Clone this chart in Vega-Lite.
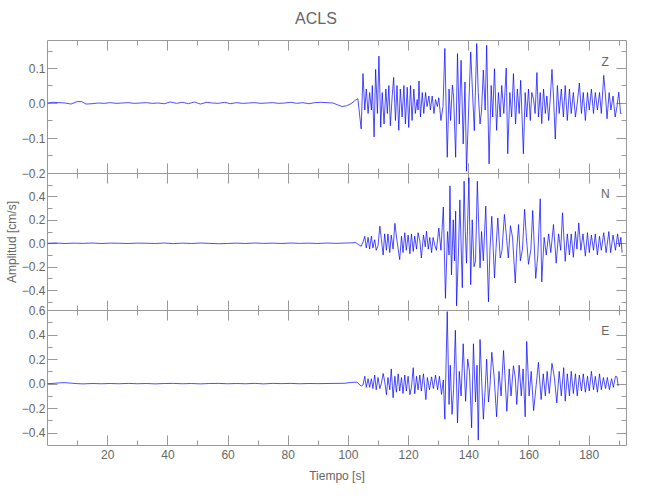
{
"$schema": "https://vega.github.io/schema/vega-lite/v6.json",
"background": "white",
"padding": {"left": 4, "top": 11, "right": 5, "bottom": 5},
"title": {"text": "ACLS", "fontSize": 16, "font": "Liberation Sans", "fontWeight": "normal", "color": "#666666", "anchor": "middle", "offset": 12},
"spacing": 0,
"bounds": "flush",
"config": {
  "view": {"stroke": "#999999", "strokeWidth": 1},
  "axis": {"grid": false, "domain": false, "labelFont": "Liberation Sans", "titleFont": "Liberation Sans", "labelColor": "#666666", "titleColor": "#666666", "tickColor": "#999999", "labelFontSize": 12, "titleFontSize": 12, "titleFontWeight": "normal", "labelOverlap": false}
},
"datasets": {
"z": [
{"t":0.2,"v":0.0},{"t":2,"v":0.002},{"t":4,"v":0.001},{"t":6,"v":0.0},{"t":8,"v":-0.003},{"t":10,"v":0.004},{"t":11.5,"v":0.004},{"t":13,"v":-0.003},{"t":15,"v":-0.002},{"t":17,"v":0.0},{"t":19,"v":-0.001},{"t":21,"v":0.001},{"t":23,"v":-0.001},{"t":25,"v":0.0},{"t":27,"v":0.001},{"t":29,"v":-0.001},{"t":31,"v":0.0},{"t":33,"v":0.001},{"t":35,"v":-0.001},{"t":37,"v":0.0},{"t":39,"v":-0.002},{"t":41,"v":0.003},{"t":43,"v":-0.001},{"t":45,"v":0.002},{"t":47,"v":-0.002},{"t":49,"v":0.003},{"t":51,"v":-0.003},{"t":53,"v":0.002},{"t":55,"v":0.0},{"t":57,"v":-0.001},{"t":59,"v":0.002},{"t":61,"v":-0.002},{"t":63,"v":0.001},{"t":65,"v":-0.001},{"t":67,"v":0.0},{"t":69,"v":0.001},{"t":71,"v":-0.001},{"t":73,"v":0.0},{"t":75,"v":0.001},{"t":77,"v":-0.001},{"t":79,"v":0.0},{"t":81,"v":0.002},{"t":83,"v":-0.001},{"t":85,"v":0.001},{"t":87,"v":-0.002},{"t":89,"v":0.001},{"t":91,"v":0.002},{"t":93,"v":0.001},{"t":95,"v":0.0},{"t":96.5,"v":-0.005},{"t":98,"v":-0.01},{"t":99.5,"v":-0.008},{"t":101,"v":-0.002},{"t":102.5,"v":0.008},{"t":103.3,"v":0.012},
{"t":104.4,"v":-0.074},{"t":105.0,"v":0.084},{"t":105.6,"v":-0.02},{"t":106.1,"v":0.04},{"t":106.7,"v":-0.03},{"t":107.2,"v":0.03},{"t":107.8,"v":-0.02},{"t":108.1,"v":0.05},{"t":108.7,"v":-0.097},{"t":109.2,"v":0.096},{"t":109.8,"v":-0.03},{"t":110.3,"v":0.134},{"t":110.9,"v":-0.069},{"t":111.4,"v":0.03},{"t":112.0,"v":-0.06},{"t":112.6,"v":0.04},{"t":113.1,"v":-0.03},{"t":113.6,"v":0.05},{"t":114.1,"v":-0.065},{"t":114.7,"v":0.02},{"t":115.2,"v":0.073},{"t":115.8,"v":-0.05},{"t":116.3,"v":0.05},{"t":116.9,"v":-0.078},{"t":117.4,"v":0.04},{"t":118.0,"v":-0.04},{"t":118.6,"v":0.05},{"t":119.1,"v":-0.06},{"t":119.7,"v":0.045},{"t":120.2,"v":-0.07},{"t":120.8,"v":0.05},{"t":121.3,"v":-0.05},{"t":121.9,"v":0.04},{"t":122.4,"v":-0.03},{"t":123.0,"v":0.01},{"t":123.3,"v":-0.02},{"t":123.6,"v":0.063},{"t":124.1,"v":-0.04},{"t":124.7,"v":0.03},{"t":125.2,"v":-0.03},{"t":125.8,"v":0.03},{"t":126.3,"v":-0.01},{"t":126.9,"v":0.02},{"t":127.4,"v":-0.02},{"t":128.0,"v":0.02},{"t":128.6,"v":-0.03},{"t":129.1,"v":0.01},{"t":129.7,"v":-0.01},{"t":130.2,"v":0.015},{"t":130.9,"v":-0.05},{"t":131.6,"v":-0.01},{"t":132.2,"v":0.156},{"t":133.0,"v":-0.155},{"t":133.6,"v":0.04},{"t":134.1,"v":-0.05},{"t":134.7,"v":0.051},{"t":135.1,"v":0.02},{"t":135.8,"v":-0.155},{"t":136.4,"v":0.141},{"t":137.0,"v":-0.06},{"t":137.6,"v":0.122},{"t":138.3,"v":-0.117},{"t":138.9,"v":0.06},{"t":139.4,"v":-0.195},{"t":140.1,"v":-0.02},{"t":140.8,"v":0.146},{"t":141.4,"v":0.03},{"t":142.0,"v":-0.079},{"t":142.8,"v":0.17},{"t":143.3,"v":0.03},{"t":143.9,"v":-0.06},{"t":144.4,"v":-0.02},{"t":145.0,"v":0.094},{"t":145.6,"v":-0.02},{"t":146.1,"v":0.165},{"t":146.9,"v":-0.174},{"t":147.6,"v":0.05},{"t":148.1,"v":-0.04},{"t":148.7,"v":0.098},{"t":149.4,"v":-0.078},{"t":150.0,"v":0.03},{"t":150.6,"v":-0.04},{"t":151.1,"v":0.05},{"t":151.8,"v":-0.03},{"t":152.6,"v":0.1},{"t":153.1,"v":-0.145},{"t":153.8,"v":0.03},{"t":154.4,"v":-0.04},{"t":155.0,"v":0.084},{"t":155.7,"v":-0.06},{"t":156.3,"v":0.04},{"t":156.9,"v":-0.03},{"t":157.4,"v":0.065},{"t":158.3,"v":-0.145},{"t":158.9,"v":0.03},{"t":159.4,"v":-0.04},{"t":160.0,"v":0.04},{"t":160.6,"v":-0.05},{"t":161.1,"v":0.03},{"t":161.7,"v":0.01},{"t":162.2,"v":-0.03},{"t":162.8,"v":0.087},{"t":163.3,"v":-0.04},{"t":163.9,"v":0.03},{"t":164.4,"v":-0.059},{"t":165.0,"v":0.04},{"t":165.6,"v":-0.03},{"t":166.1,"v":0.02},{"t":166.7,"v":-0.05},{"t":167.2,"v":0.01},{"t":167.8,"v":0.096},{"t":168.3,"v":0.02},{"t":168.9,"v":-0.103},{"t":169.6,"v":0.05},{"t":170.2,"v":-0.03},{"t":170.9,"v":0.04},{"t":171.6,"v":-0.04},{"t":172.2,"v":0.05},{"t":172.9,"v":-0.05},{"t":173.6,"v":0.04},{"t":174.2,"v":-0.03},{"t":174.9,"v":0.03},{"t":175.6,"v":-0.04},{"t":176.2,"v":0.0},{"t":176.9,"v":0.057},{"t":177.6,"v":-0.03},{"t":178.2,"v":0.03},{"t":178.9,"v":-0.05},{"t":179.6,"v":0.03},{"t":180.2,"v":-0.02},{"t":180.9,"v":0.04},{"t":181.6,"v":-0.03},{"t":182.2,"v":0.03},{"t":182.9,"v":-0.02},{"t":183.6,"v":0.03},{"t":184.2,"v":-0.03},{"t":185.0,"v":0.079},{"t":185.6,"v":0.02},{"t":186.1,"v":-0.045},{"t":186.8,"v":0.03},{"t":187.4,"v":-0.02},{"t":188.1,"v":0.02},{"t":188.8,"v":-0.04},{"t":189.4,"v":-0.01},{"t":190.0,"v":0.031},{"t":190.6,"v":-0.03},{"t":190.9,"v":-0.03}
],
"n": [
{"t":0.2,"v":0.0},{"t":3,"v":0.002},{"t":6,"v":-0.002},{"t":9,"v":0.001},{"t":12,"v":-0.001},{"t":15,"v":0.002},{"t":18,"v":-0.002},{"t":21,"v":0.001},{"t":24,"v":0.0},{"t":27,"v":-0.002},{"t":30,"v":0.001},{"t":33,"v":0.0},{"t":36,"v":-0.002},{"t":39,"v":0.002},{"t":42,"v":-0.003},{"t":45,"v":0.001},{"t":48,"v":-0.002},{"t":51,"v":0.002},{"t":54,"v":-0.001},{"t":57,"v":-0.004},{"t":60,"v":-0.002},{"t":63,"v":0.001},{"t":66,"v":-0.002},{"t":69,"v":0.002},{"t":72,"v":-0.001},{"t":75,"v":0.001},{"t":78,"v":-0.002},{"t":81,"v":0.002},{"t":84,"v":-0.001},{"t":87,"v":0.001},{"t":90,"v":-0.002},{"t":93,"v":0.002},{"t":96,"v":-0.001},{"t":99,"v":0.002},{"t":101,"v":0.003},{"t":102.5,"v":0.006},{"t":103.5,"v":-0.01},{"t":104.4,"v":-0.026},
{"t":105.0,"v":0.01},{"t":105.6,"v":0.06},{"t":106.1,"v":-0.04},{"t":106.7,"v":0.05},{"t":107.2,"v":-0.05},{"t":107.8,"v":0.06},{"t":108.3,"v":-0.04},{"t":108.9,"v":0.03},{"t":109.4,"v":-0.06},{"t":110.0,"v":-0.02},{"t":110.6,"v":0.146},{"t":111.1,"v":0.04},{"t":111.7,"v":-0.10},{"t":112.2,"v":0.08},{"t":112.8,"v":-0.06},{"t":113.3,"v":0.08},{"t":113.9,"v":-0.08},{"t":114.4,"v":0.07},{"t":115.0,"v":-0.05},{"t":115.6,"v":0.17},{"t":116.3,"v":0.02},{"t":117.2,"v":-0.14},{"t":117.8,"v":0.06},{"t":118.3,"v":-0.08},{"t":118.9,"v":0.09},{"t":119.4,"v":-0.06},{"t":120.0,"v":0.07},{"t":120.6,"v":-0.09},{"t":121.1,"v":0.08},{"t":121.7,"v":-0.07},{"t":122.2,"v":0.06},{"t":122.8,"v":-0.05},{"t":123.3,"v":0.09},{"t":123.9,"v":0.02},{"t":124.4,"v":-0.126},{"t":125.1,"v":0.07},{"t":125.7,"v":-0.03},{"t":126.1,"v":0.103},{"t":126.7,"v":-0.05},{"t":127.2,"v":0.05},{"t":127.8,"v":-0.08},{"t":128.3,"v":0.05},{"t":128.9,"v":-0.02},{"t":129.4,"v":-0.06},{"t":130.2,"v":0.13},{"t":130.9,"v":-0.06},{"t":131.7,"v":0.31},{"t":132.4,"v":-0.47},{"t":133.1,"v":0.1},{"t":133.6,"v":-0.1},{"t":133.9,"v":0.49},{"t":134.4,"v":-0.27},{"t":135.0,"v":0.2},{"t":135.4,"v":-0.15},{"t":135.8,"v":0.274},{"t":136.1,"v":-0.534},{"t":136.7,"v":-0.1},{"t":137.2,"v":0.37},{"t":138.0,"v":-0.38},{"t":138.6,"v":0.53},{"t":139.0,"v":0.1},{"t":139.4,"v":-0.17},{"t":140.2,"v":0.56},{"t":140.8,"v":-0.354},{"t":141.3,"v":0.2},{"t":141.9,"v":-0.2},{"t":142.4,"v":-0.15},{"t":143.0,"v":0.53},{"t":143.9,"v":-0.21},{"t":144.4,"v":0.1},{"t":145.0,"v":-0.15},{"t":145.8,"v":0.317},{"t":146.7,"v":-0.50},{"t":147.2,"v":-0.05},{"t":147.8,"v":0.23},{"t":148.7,"v":-0.297},{"t":149.2,"v":-0.05},{"t":149.8,"v":0.216},{"t":150.6,"v":-0.126},{"t":151.2,"v":-0.06},{"t":152.0,"v":0.246},{"t":152.7,"v":0.05},{"t":153.3,"v":-0.126},{"t":154.0,"v":0.15},{"t":154.7,"v":0.05},{"t":155.6,"v":-0.34},{"t":156.1,"v":-0.05},{"t":156.7,"v":0.16},{"t":157.3,"v":-0.15},{"t":158.0,"v":-0.05},{"t":158.7,"v":0.29},{"t":159.3,"v":0.05},{"t":160.0,"v":-0.18},{"t":160.8,"v":-0.05},{"t":161.4,"v":0.28},{"t":162.4,"v":-0.30},{"t":163.1,"v":-0.1},{"t":163.9,"v":0.38},{"t":164.4,"v":-0.33},{"t":165.2,"v":0.05},{"t":165.9,"v":-0.1},{"t":166.7,"v":0.08},{"t":167.4,"v":-0.08},{"t":168.3,"v":0.16},{"t":169.2,"v":-0.17},{"t":170.0,"v":0.08},{"t":170.7,"v":-0.06},{"t":171.3,"v":0.26},{"t":172.2,"v":-0.154},{"t":172.9,"v":0.08},{"t":173.6,"v":-0.1},{"t":174.2,"v":0.08},{"t":174.9,"v":-0.12},{"t":175.6,"v":0.1},{"t":176.1,"v":-0.05},{"t":176.7,"v":0.174},{"t":177.4,"v":-0.06},{"t":178.1,"v":0.08},{"t":178.9,"v":-0.11},{"t":179.6,"v":0.09},{"t":180.2,"v":-0.08},{"t":180.9,"v":0.07},{"t":181.6,"v":-0.06},{"t":182.2,"v":0.08},{"t":182.9,"v":-0.1},{"t":183.6,"v":0.06},{"t":184.2,"v":-0.06},{"t":185.0,"v":0.09},{"t":185.8,"v":-0.08},{"t":186.7,"v":0.10},{"t":187.3,"v":-0.08},{"t":188.1,"v":0.07},{"t":188.9,"v":-0.06},{"t":189.6,"v":0.08},{"t":190.2,"v":-0.03},{"t":190.7,"v":0.05},{"t":191.1,"v":-0.08}
],
"e": [
{"t":0.2,"v":0.0},{"t":2,"v":0.002},{"t":4,"v":0.006},{"t":6,"v":0.008},{"t":8,"v":0.004},{"t":10,"v":0.0},{"t":12,"v":-0.002},{"t":15,"v":0.001},{"t":18,"v":-0.001},{"t":21,"v":0.001},{"t":24,"v":-0.001},{"t":27,"v":0.002},{"t":30,"v":-0.001},{"t":33,"v":0.001},{"t":36,"v":-0.002},{"t":39,"v":0.001},{"t":42,"v":0.002},{"t":45,"v":-0.001},{"t":48,"v":0.001},{"t":51,"v":-0.002},{"t":54,"v":0.001},{"t":57,"v":0.002},{"t":60,"v":-0.001},{"t":63,"v":0.001},{"t":66,"v":-0.001},{"t":69,"v":0.002},{"t":72,"v":-0.002},{"t":75,"v":0.002},{"t":78,"v":0.0},{"t":81,"v":0.002},{"t":84,"v":-0.001},{"t":87,"v":0.001},{"t":90,"v":0.0},{"t":93,"v":0.001},{"t":96,"v":0.002},{"t":99,"v":0.003},{"t":101,"v":0.01},{"t":103,"v":0.012},{"t":104.4,"v":-0.02},
{"t":105.0,"v":-0.01},{"t":105.6,"v":0.06},{"t":106.1,"v":-0.03},{"t":106.7,"v":0.04},{"t":107.2,"v":-0.03},{"t":107.8,"v":0.04},{"t":108.3,"v":-0.04},{"t":108.9,"v":0.07},{"t":109.4,"v":-0.05},{"t":110.0,"v":0.05},{"t":110.6,"v":-0.04},{"t":111.1,"v":0.0},{"t":111.7,"v":0.083},{"t":112.2,"v":0.02},{"t":112.8,"v":-0.09},{"t":113.3,"v":0.05},{"t":113.9,"v":-0.05},{"t":114.4,"v":0.12},{"t":115.0,"v":-0.115},{"t":115.6,"v":0.06},{"t":116.1,"v":-0.07},{"t":116.7,"v":0.08},{"t":117.2,"v":-0.06},{"t":117.8,"v":0.05},{"t":118.3,"v":-0.08},{"t":118.9,"v":0.07},{"t":119.4,"v":-0.06},{"t":120.0,"v":0.06},{"t":120.6,"v":-0.09},{"t":121.1,"v":-0.03},{"t":121.7,"v":0.13},{"t":122.2,"v":-0.083},{"t":122.8,"v":0.06},{"t":123.3,"v":-0.05},{"t":123.9,"v":0.07},{"t":124.4,"v":-0.06},{"t":125.1,"v":0.08},{"t":125.9,"v":-0.13},{"t":126.4,"v":0.05},{"t":127.1,"v":-0.05},{"t":127.8,"v":0.055},{"t":128.4,"v":-0.04},{"t":129.1,"v":0.07},{"t":129.8,"v":-0.05},{"t":130.4,"v":0.06},{"t":131.1,"v":-0.088},{"t":131.7,"v":0.03},{"t":132.2,"v":-0.29},{"t":133.0,"v":0.587},{"t":133.6,"v":-0.17},{"t":134.0,"v":0.15},{"t":134.6,"v":-0.25},{"t":135.1,"v":-0.05},{"t":135.7,"v":0.435},{"t":136.4,"v":-0.32},{"t":137.0,"v":0.1},{"t":137.6,"v":-0.1},{"t":138.3,"v":0.325},{"t":139.1,"v":-0.144},{"t":139.8,"v":0.2},{"t":140.4,"v":0.1},{"t":141.1,"v":-0.36},{"t":141.7,"v":0.325},{"t":142.4,"v":-0.15},{"t":142.9,"v":0.15},{"t":143.3,"v":-0.46},{"t":143.9,"v":0.36},{"t":144.4,"v":0.05},{"t":145.0,"v":-0.29},{"t":145.6,"v":-0.05},{"t":146.1,"v":0.2},{"t":146.7,"v":-0.15},{"t":147.2,"v":-0.02},{"t":147.8,"v":0.256},{"t":148.6,"v":0.05},{"t":149.4,"v":-0.27},{"t":150.2,"v":0.1},{"t":150.9,"v":-0.1},{"t":151.7,"v":0.27},{"t":152.2,"v":0.05},{"t":152.8,"v":-0.226},{"t":153.6,"v":0.12},{"t":154.2,"v":-0.1},{"t":155.0,"v":0.146},{"t":155.6,"v":0.05},{"t":156.1,"v":-0.17},{"t":156.9,"v":0.15},{"t":157.6,"v":-0.1},{"t":158.2,"v":0.12},{"t":158.9,"v":-0.27},{"t":159.4,"v":0.344},{"t":160.2,"v":-0.1},{"t":160.9,"v":0.1},{"t":161.7,"v":-0.22},{"t":162.4,"v":-0.05},{"t":163.3,"v":0.174},{"t":164.2,"v":-0.13},{"t":164.9,"v":0.08},{"t":165.6,"v":-0.1},{"t":166.2,"v":0.1},{"t":166.9,"v":-0.08},{"t":167.8,"v":0.165},{"t":168.6,"v":0.05},{"t":169.4,"v":-0.157},{"t":170.2,"v":0.1},{"t":170.9,"v":-0.1},{"t":171.7,"v":0.13},{"t":172.2,"v":-0.143},{"t":172.9,"v":0.08},{"t":173.6,"v":-0.1},{"t":174.2,"v":0.1},{"t":174.9,"v":-0.08},{"t":175.6,"v":0.08},{"t":176.2,"v":-0.1},{"t":176.9,"v":0.07},{"t":177.6,"v":-0.06},{"t":178.2,"v":0.08},{"t":178.9,"v":-0.07},{"t":179.6,"v":0.06},{"t":180.2,"v":-0.06},{"t":180.9,"v":0.1},{"t":181.6,"v":-0.05},{"t":182.2,"v":0.06},{"t":182.9,"v":-0.07},{"t":183.6,"v":0.08},{"t":184.2,"v":-0.05},{"t":184.9,"v":0.05},{"t":185.6,"v":-0.04},{"t":186.2,"v":0.05},{"t":186.9,"v":-0.05},{"t":187.6,"v":0.04},{"t":188.2,"v":-0.03},{"t":188.9,"v":0.06},{"t":189.4,"v":0.055},{"t":189.8,"v":-0.02}
]
},
"vconcat": [
{
  "width": 579, "height": 133,
  "data": {"name": "z"},
  "resolve": {"axis": {"x": "independent", "y": "independent"}},
  "layer": [
    {"mark": {"type": "line", "color": "#0000ff", "strokeWidth": 0.7, "clip": true},
     "encoding": {
      "x": {"field": "t", "type": "quantitative", "scale": {"domain": [0, 192.4], "nice": false, "zero": false},
            "axis": {"orient": "bottom", "values": [10,20,30,40,50,60,70,80,90,100,110,120,130,140,150,160,170,180,190], "tickSize": {"condition": {"test": "datum.value % 20 === 0", "value": -10}, "value": -5}, "labels": false, "title": null}},
      "y": {"field": "v", "type": "quantitative", "scale": {"domain": [-0.2, 0.18], "nice": false, "zero": false},
            "axis": {"orient": "left", "values": [-0.2,-0.15,-0.1,-0.05,0,0.05,0.1,0.15], "format": ".1f", "labelExpr": "abs(datum.value*10 - round(datum.value*10)) < 0.000001 ? datum.label : ''", "tickSize": {"condition": {"test": "abs(datum.value*10 - round(datum.value*10)) < 0.000001", "value": -10}, "value": -5}, "labelPadding": 12, "title": null}}
     }},
    {"mark": {"type": "line", "opacity": 0},
     "encoding": {
      "x": {"field": "t", "type": "quantitative",
            "axis": {"orient": "top", "values": [10,20,30,40,50,60,70,80,90,100,110,120,130,140,150,160,170,180,190], "tickSize": {"condition": {"test": "datum.value % 20 === 0", "value": -10}, "value": -5}, "labels": false, "title": null}},
      "y": {"field": "v", "type": "quantitative",
            "axis": {"orient": "right", "values": [-0.2,-0.15,-0.1,-0.05,0,0.05,0.1,0.15], "tickSize": {"condition": {"test": "abs(datum.value*10 - round(datum.value*10)) < 0.000001", "value": -10}, "value": -5}, "labels": false, "title": null}}
     }},
    {"data": {"values": [{"lbl": "Z"}]},
     "mark": {"type": "text", "font": "Liberation Sans", "fontSize": 12, "color": "#666666"},
     "encoding": {"x": {"datum": 185.5, "type": "quantitative", "axis": null}, "y": {"datum": 0.118, "type": "quantitative", "axis": null}, "text": {"field": "lbl"}}}
  ]
},
{
  "width": 579, "height": 137,
  "data": {"name": "n"},
  "resolve": {"axis": {"x": "independent", "y": "independent"}},
  "layer": [
    {"mark": {"type": "line", "color": "#0000ff", "strokeWidth": 0.7, "clip": true},
     "encoding": {
      "x": {"field": "t", "type": "quantitative", "scale": {"domain": [0, 192.4], "nice": false, "zero": false},
            "axis": {"orient": "bottom", "values": [10,20,30,40,50,60,70,80,90,100,110,120,130,140,150,160,170,180,190], "tickSize": {"condition": {"test": "datum.value % 20 === 0", "value": -10}, "value": -5}, "labels": false, "title": null}},
      "y": {"field": "v", "type": "quantitative", "scale": {"domain": [-0.57, 0.6], "nice": false, "zero": false},
            "axis": {"orient": "left", "values": [-0.5,-0.4,-0.3,-0.2,-0.1,0,0.1,0.2,0.3,0.4,0.5], "format": ".1f", "labelExpr": "abs(datum.value*5 - round(datum.value*5)) < 0.000001 ? datum.label : ''", "tickSize": {"condition": {"test": "abs(datum.value*5 - round(datum.value*5)) < 0.000001", "value": -10}, "value": -5}, "labelPadding": 12, "title": "Amplitud  [cm/s]", "titlePadding": 3}}
     }},
    {"mark": {"type": "line", "opacity": 0},
     "encoding": {
      "x": {"field": "t", "type": "quantitative",
            "axis": {"orient": "top", "values": [10,20,30,40,50,60,70,80,90,100,110,120,130,140,150,160,170,180,190], "tickSize": {"condition": {"test": "datum.value % 20 === 0", "value": -10}, "value": -5}, "labels": false, "title": null}},
      "y": {"field": "v", "type": "quantitative",
            "axis": {"orient": "right", "values": [-0.5,-0.4,-0.3,-0.2,-0.1,0,0.1,0.2,0.3,0.4,0.5], "tickSize": {"condition": {"test": "abs(datum.value*5 - round(datum.value*5)) < 0.000001", "value": -10}, "value": -5}, "labels": false, "title": null}}
     }},
    {"data": {"values": [{"lbl": "N"}]},
     "mark": {"type": "text", "font": "Liberation Sans", "fontSize": 12, "color": "#666666"},
     "encoding": {"x": {"datum": 185.5, "type": "quantitative", "axis": null}, "y": {"datum": 0.42, "type": "quantitative", "axis": null}, "text": {"field": "lbl"}}}
  ]
},
{
  "width": 579, "height": 135,
  "data": {"name": "e"},
  "resolve": {"axis": {"x": "independent", "y": "independent"}},
  "layer": [
    {"mark": {"type": "line", "color": "#0000ff", "strokeWidth": 0.7, "clip": true},
     "encoding": {
      "x": {"field": "t", "type": "quantitative", "scale": {"domain": [0, 192.4], "nice": false, "zero": false},
            "axis": {"orient": "bottom", "values": [10,20,30,40,50,60,70,80,90,100,110,120,130,140,150,160,170,180,190], "labelExpr": "datum.value % 20 === 0 ? datum.label : ''", "tickSize": {"condition": {"test": "datum.value % 20 === 0", "value": -10}, "value": -5}, "labelPadding": 14, "title": "Tiempo  [s]", "titlePadding": 5}},
      "y": {"field": "v", "type": "quantitative", "scale": {"domain": [-0.5, 0.6], "nice": false, "zero": false},
            "axis": {"orient": "left", "values": [-0.4,-0.3,-0.2,-0.1,0,0.1,0.2,0.3,0.4,0.5,0.6], "format": ".1f", "labelExpr": "abs(datum.value*5 - round(datum.value*5)) < 0.000001 ? datum.label : ''", "tickSize": {"condition": {"test": "abs(datum.value*5 - round(datum.value*5)) < 0.000001", "value": -10}, "value": -5}, "labelPadding": 12, "title": null}}
     }},
    {"mark": {"type": "line", "opacity": 0},
     "encoding": {
      "x": {"field": "t", "type": "quantitative",
            "axis": {"orient": "top", "values": [10,20,30,40,50,60,70,80,90,100,110,120,130,140,150,160,170,180,190], "tickSize": {"condition": {"test": "datum.value % 20 === 0", "value": -10}, "value": -5}, "labels": false, "title": null}},
      "y": {"field": "v", "type": "quantitative",
            "axis": {"orient": "right", "values": [-0.4,-0.3,-0.2,-0.1,0,0.1,0.2,0.3,0.4,0.5,0.6], "tickSize": {"condition": {"test": "abs(datum.value*5 - round(datum.value*5)) < 0.000001", "value": -10}, "value": -5}, "labels": false, "title": null}}
     }},
    {"data": {"values": [{"lbl": "E"}]},
     "mark": {"type": "text", "font": "Liberation Sans", "fontSize": 12, "color": "#666666"},
     "encoding": {"x": {"datum": 185.5, "type": "quantitative", "axis": null}, "y": {"datum": 0.43, "type": "quantitative", "axis": null}, "text": {"field": "lbl"}}}
  ]
}
]
}
